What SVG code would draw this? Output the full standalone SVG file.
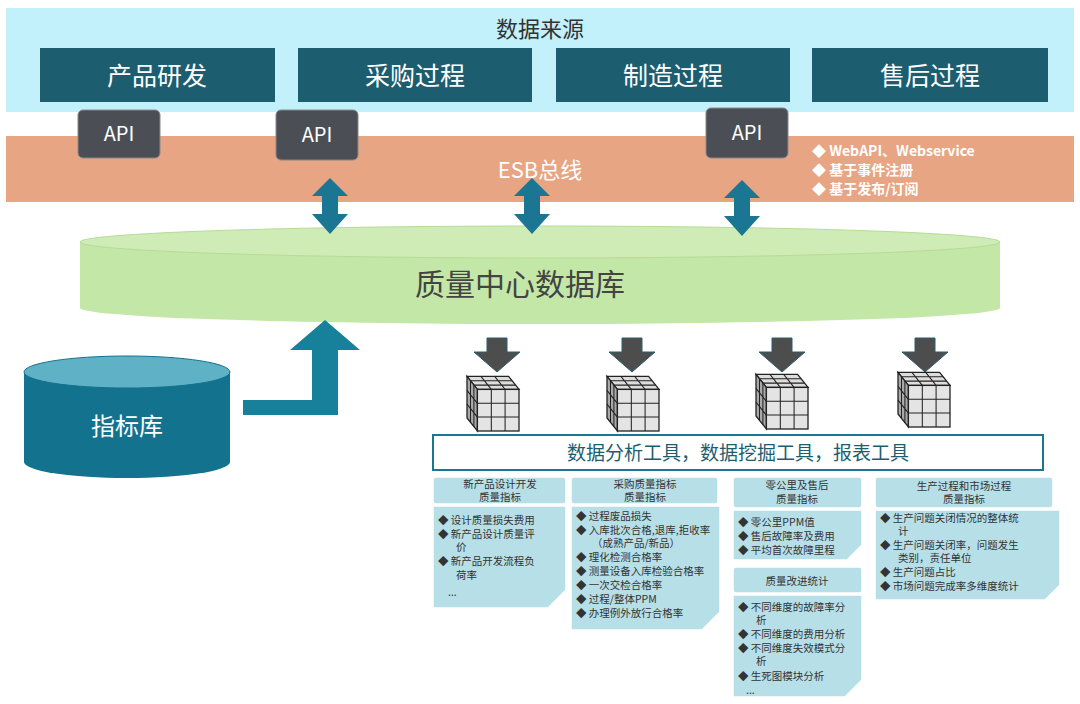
<svg xmlns="http://www.w3.org/2000/svg" width="1080" height="704" viewBox="0 0 1080 704">
<style>
text{font-family:"Noto Sans CJK SC","Liberation Sans",sans-serif}
.src{fill:#1d5d70}
.srct{fill:#fff;font-size:25px;text-anchor:middle}
.api{fill:#4b4f55;stroke:#888;stroke-width:1}
.apit{fill:#fff;font-size:20px;text-anchor:middle}
.dbl{fill:#1b7694}
.dn{fill:#4d4d4d;stroke:#2b5f6e;stroke-width:1}
.hd{fill:#b7dfe8;stroke:#fff;stroke-width:1.5}
.bd{fill:#b7dfe8;stroke:#fff;stroke-width:1.5}
.ht{font-size:10.5px;fill:#333;text-anchor:middle}
.bt{font-size:10.5px;fill:#333}
.cf{stroke:#222;stroke-width:1}
</style>
<defs>
<g id="cube">
<polygon points="0,-12 32,-12 40,-2 8,-2" class="cf" fill="#ddd"/>
<polygon points="0,-12 8,-2 8,30 0,20" class="cf" fill="#aaa"/>
<rect x="8" y="-2" width="32" height="32" class="cf" fill="#e4e4e4"/>
<path d="M18.7,-2V30M29.3,-2V30M8,8.7H40M8,19.3H40M2.7,-8.7V23.3M5.3,-5.3V26.7M0,-1.3L8,8.7M0,9.3L8,19.3M10.7,-12L18.7,-2M21.3,-12L29.3,-2M2.7,-8.7H34.7M5.3,-5.3H37.3" stroke="#222" fill="none" stroke-width="0.8"/>
</g>
<path id="dba" d="M-10,-34 L10,-34 L10,-20 L23,-20 L0,0 L-23,-20 L-10,-20Z"/>
</defs>
<rect x="6" y="8" width="1068" height="104" fill="#c3f1fb"/>
<text x="540" y="37" font-size="22" fill="#333" text-anchor="middle">数据来源</text>
<g id="src1"><rect x="40" y="48" width="235" height="54" class="src"/><text x="157" y="85" class="srct">产品研发</text></g>
<g id="src2"><rect x="298" y="48" width="234" height="54" class="src"/><text x="415" y="85" class="srct">采购过程</text></g>
<g id="src3"><rect x="556" y="48" width="234" height="54" class="src"/><text x="673" y="85" class="srct">制造过程</text></g>
<g id="src4"><rect x="812" y="48" width="236" height="54" class="src"/><text x="930" y="85" class="srct">售后过程</text></g>
<g id="esb"><rect x="6" y="136" width="1068" height="66" fill="#e8a583"/>
<text x="540" y="178" font-size="22" fill="#fff" text-anchor="middle">ESB总线</text>
<g font-size="14" fill="#fff" font-weight="bold"><text x="812" y="156">◆  WebAPI、Webservice</text><text x="812" y="175">◆  基于事件注册</text><text x="812" y="194">◆  基于发布/订阅</text></g></g>
<g id="api1"><rect x="78" y="110" width="82" height="48" rx="5" class="api"/><text x="119" y="141" class="apit">API</text></g>
<g id="api2"><rect x="276" y="110" width="82" height="50" rx="5" class="api"/><text x="317" y="142" class="apit">API</text></g>
<g id="api3"><rect x="706" y="108" width="82" height="50" rx="5" class="api"/><text x="747" y="140" class="apit">API</text></g>
<g id="db"><path d="M80,242 V308 A460,16 0 0 0 1000,308 V242Z" fill="#c3e7a6"/><ellipse cx="540" cy="242" rx="460" ry="16" fill="#cfecb7" stroke="#b5dc96"/>
<text x="520" y="295" font-size="30" fill="#444" text-anchor="middle">质量中心数据库</text></g>
<g id="connectors">
<g class="dbl">
<path d="M330,178 L348,196 L338,196 L338,214 L348,214 L330,234 L312,214 L322,214 L322,196 L312,196Z"/>
<path d="M532,178 L550,196 L540,196 L540,214 L550,214 L532,234 L514,214 L524,214 L524,196 L514,196Z"/>
<path d="M742,180 L760,198 L750,198 L750,216 L760,216 L742,236 L724,216 L734,216 L734,198 L724,198Z"/>
</g>
<path d="M243,415 L243,400 L312,400 L312,350 L290,350 L325,320 L360,350 L338,350 L338,415Z" fill="#17809b"/>
<g class="dn">
<use href="#dba" x="497" y="372"/><use href="#dba" x="632" y="372"/><use href="#dba" x="782" y="372"/><use href="#dba" x="925" y="372"/>
</g>
</g>
<g id="cubes"><use href="#cube" transform="translate(467,392) scale(1.3)"/><use href="#cube" transform="translate(607,392) scale(1.3)"/><use href="#cube" transform="translate(756,390) scale(1.3)"/><use href="#cube" transform="translate(898,388) scale(1.3)"/></g>
<g id="kpi"><path d="M24,372 V462 A103,16 0 0 0 230,462 V372Z" fill="#13738f"/><ellipse cx="127" cy="372" rx="103" ry="16" fill="#5fb2c6" stroke="#13738f"/>
<text x="127" y="435" font-size="24" fill="#fff" text-anchor="middle">指标库</text></g>
<g id="tools"><rect x="433" y="435" width="610" height="35" fill="#fff" stroke="#1b7694" stroke-width="2"/>
<text x="738" y="460" font-size="19" fill="#1d5d70" text-anchor="middle">数据分析工具，数据挖掘工具，报表工具</text></g>
<g id="card1"><rect x="433" y="477" width="133" height="27" rx="3" class="hd"/><text x="500" y="488" class="ht">新产品设计开发</text><text x="500" y="501" class="ht">质量指标</text>
<path d="M433,506 H566 V590 L548,608 H433Z" class="bd"/>
<g class="bt"><text x="438" y="524">◆  设计质量损失费用</text><text x="438" y="538">◆  新产品设计质量评</text><text x="456" y="551">价</text><text x="438" y="565">◆  新产品开发流程负</text><text x="456" y="579">荷率</text><text x="448" y="596">...</text></g></g>
<g id="card2"><rect x="571" y="477" width="147" height="27" rx="3" class="hd"/><text x="645" y="488" class="ht">采购质量指标</text><text x="645" y="501" class="ht">质量指标</text>
<path d="M571,506 H720 V612 L702,630 H571Z" class="bd"/>
<g class="bt"><text x="576" y="520">◆  过程废品损失</text><text x="576" y="534">◆  入库批次合格,退库,拒收率</text><text x="592" y="547">（成熟产品/新品）</text><text x="576" y="561">◆  理化检测合格率</text><text x="576" y="575">◆  测量设备入库检验合格率</text><text x="576" y="589">◆  一次交检合格率</text><text x="576" y="603">◆  过程/整体PPM</text><text x="576" y="617">◆  办理例外放行合格率</text></g></g>
<g id="card3"><rect x="733" y="477" width="129" height="31" rx="3" class="hd"/><text x="797" y="489" class="ht">零公里及售后</text><text x="797" y="503" class="ht">质量指标</text>
<path d="M733,510 H862 V545 L847,560 H733Z" class="bd"/>
<g class="bt"><text x="738" y="526">◆  零公里PPM值</text><text x="738" y="540">◆  售后故障率及费用</text><text x="738" y="554">◆  平均首次故障里程</text></g></g>
<g id="card4"><rect x="733" y="567" width="129" height="26" rx="3" class="hd"/><text x="797" y="585" class="ht">质量改进统计</text>
<path d="M733,595 H862 V680 L845,697 H733Z" class="bd"/>
<g class="bt"><text x="738" y="611">◆  不同维度的故障率分</text><text x="756" y="624">析</text><text x="738" y="638">◆  不同维度的费用分析</text><text x="738" y="652">◆  不同维度失效模式分</text><text x="756" y="665">析</text><text x="738" y="680">◆  生死图模块分析</text><text x="746" y="694">...</text></g></g>
<g id="card5"><rect x="875" y="477" width="178" height="31" rx="3" class="hd"/><text x="964" y="490" class="ht">生产过程和市场过程</text><text x="964" y="503" class="ht">质量指标</text>
<path d="M875,510 H1060 V585 L1045,600 H875Z" class="bd"/>
<g class="bt"><text x="880" y="522">◆  生产问题关闭情况的整体统</text><text x="898" y="535">计</text><text x="880" y="549">◆  生产问题关闭率，问题发生</text><text x="898" y="562">类别，责任单位</text><text x="880" y="576">◆  生产问题占比</text><text x="880" y="590">◆  市场问题完成率多维度统计</text></g></g>
</svg>
